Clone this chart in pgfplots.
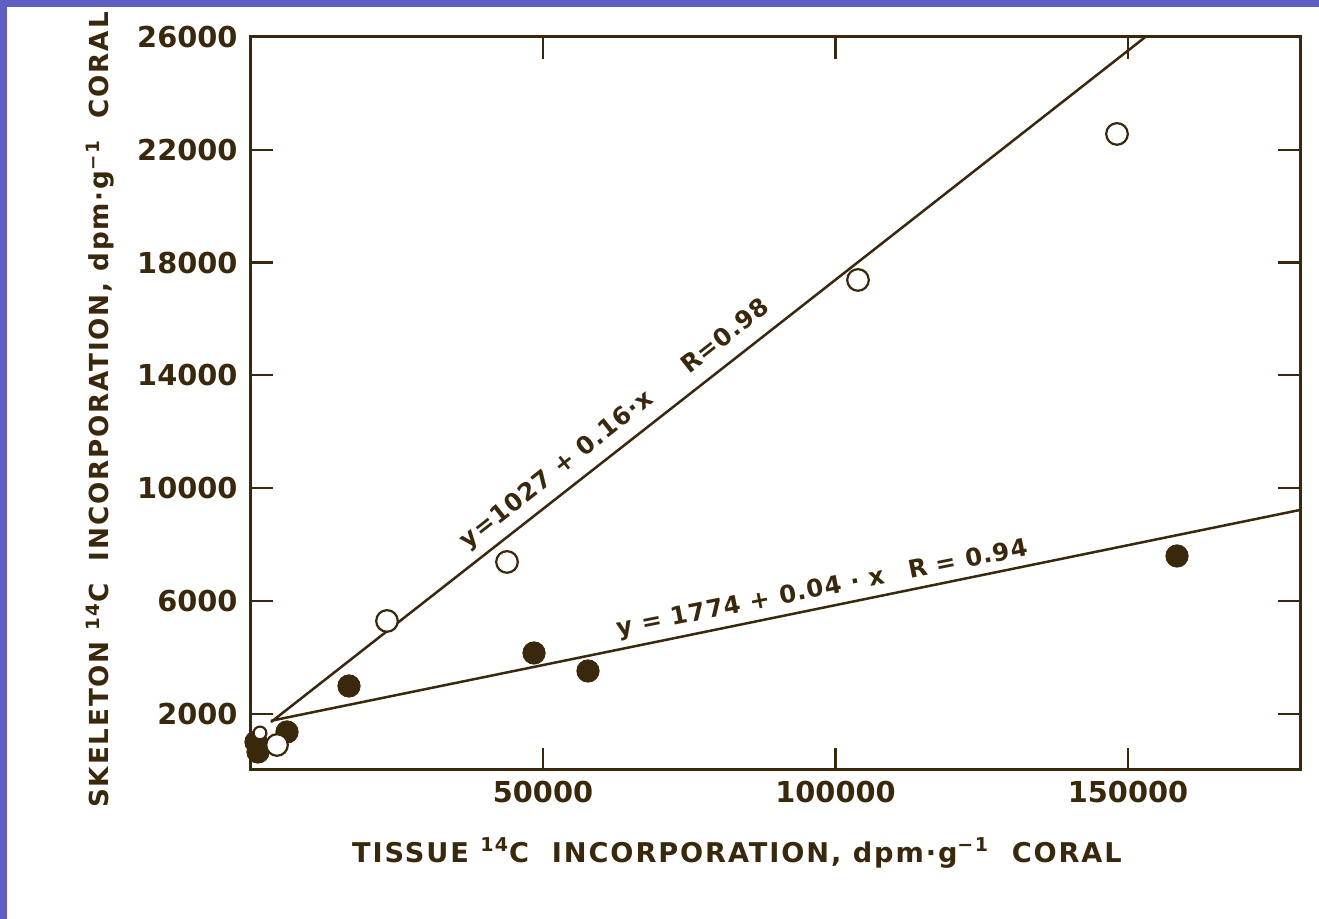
\documentclass[border=0pt]{standalone}
\usepackage{pgfplots}
\pgfplotsset{compat=1.18}
\usepackage{fontspec}
\setmainfont{DejaVu Sans}
\newfontfamily\labfont[LetterSpace=7]{DejaVu Sans}
\newfontfamily\annfont[LetterSpace=4]{DejaVu Sans}
\definecolor{ink}{RGB}{58,40,12}
\definecolor{slide}{RGB}{95,95,195}
\begin{document}
\begin{tikzpicture}[x=0.5pt,y=0.5pt]
\useasboundingbox (0,0) rectangle (1319,919);
\fill[slide] (0,0) rectangle (1319,919);
\fill[white] (7,0) rectangle (1319,912);
\begin{axis}[
  at={(125.25pt,74.5pt)}, anchor=south west,
  scale only axis, width=524.75pt, height=366.5pt,
  xmin=0, xmax=179400, ymin=0, ymax=26000,
  axis line style={ink, line width=1.5pt},
  tick style={ink, line width=1.1pt},
  major tick length=11pt,
  tick align=inside, tick pos=both,
  scaled x ticks=false, scaled y ticks=false,
  xtick={50000,100000,150000},
  xticklabels={50000,100000,150000},
  ytick={2000,6000,10000,14000,18000,22000,26000},
  yticklabels={2000,6000,10000,14000,18000,22000,26000},
  ticklabel style={font=\fontsize{14.4}{16}\selectfont\bfseries, text=ink},
  xticklabel style={yshift=-2pt},
  yticklabel style={xshift=-3pt},
  clip=true,
]
\addplot[ink, line width=1.25pt] coordinates {(3500,1700) (154200,26200)};
\addplot[ink, line width=1.25pt] coordinates {(3500,1745) (179400,9223)};
\addplot[only marks, mark=*, mark size=5.6pt, mark options={fill=ink, draw=ink}] coordinates {
  (940,993) (1282,639) (6239,1348) (16838,2980) (48462,4150) (57692,3512) (158376,7591)};
\addplot[only marks, mark=*, mark size=5.4pt, mark options={fill=white, draw=ink, line width=1.1pt}] coordinates {
  (4530,887) (23333,5286) (43846,7379) (103846,17382) (148120,22561)};
\addplot[only marks, mark=*, mark size=3.2pt, mark options={fill=white, draw=ink, line width=1.1pt}] coordinates {
  (1624,1313)};
\node[rotate=38.3, text=ink, font=\annfont\fontsize{12.2}{14}\selectfont\bfseries] at (axis cs:62400,12250) {y=1027 + 0.16·x\quad\ \ R=0.98};
\node[rotate=11.2, text=ink, font=\annfont\fontsize{12.2}{14}\selectfont\bfseries] at (axis cs:97800,6400) {y = 1774 + 0.04 · x\quad R = 0.94};
\end{axis}
\node[text=ink, font=\labfont\fontsize{13.6}{16}\selectfont\bfseries] at (737,66) {TISSUE \textsuperscript{14}C\ \ INCORPORATION, dpm·g\textsuperscript{−1}\ \ CORAL};
\node[rotate=90, text=ink, font=\labfont\fontsize{13.1}{16}\selectfont\bfseries] at (100,509) {SKELETON \textsuperscript{14}C\ \ INCORPORATION, dpm·g\textsuperscript{−1}\ \ CORAL};
\end{tikzpicture}
\end{document}
